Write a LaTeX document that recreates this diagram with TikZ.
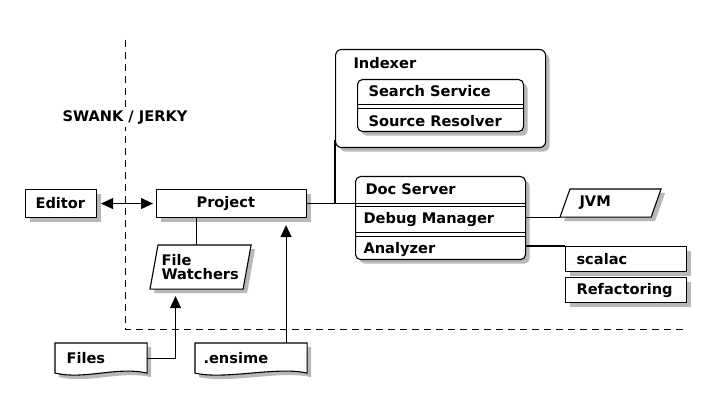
\documentclass[tikz,border=0pt]{standalone}
\usepackage{fontspec}
\setmainfont{DejaVu Sans}
\usepackage{tikz}
\usetikzlibrary{positioning,shadows,arrows.meta}

\begin{document}
\begin{tikzpicture}[x=1pt, y=-1pt, line width=1.1pt,
  font=\fontsize{14.6}{14.3}\selectfont\bfseries,
  >={Triangle[length=12pt, width=11pt]},
  boxshadow/.style={drop shadow={shadow xshift=4pt, shadow yshift=-4pt, fill=black!28, opacity=1}},
  box/.style={draw, fill=white, anchor=north west, align=left, inner ysep=0pt, boxshadow},
  page/.style={anchor=north west, inner sep=0pt},
  tag/.style={inner sep=0pt},
  link/.style={->, shorten >=7pt},
  lane/.style={line width=0.8pt, dash pattern=on 7pt off 5pt}]
\useasboundingbox (0,0) rectangle (710,406);

% protocol border
\coordinate (ltop) at (125,40); \coordinate (lcorner) at (125,329); \coordinate (lend) at (685,329);
\draw[lane] (ltop) -- (lcorner) -- (lend);
\node[fill=white, inner sep=2pt] (proto) at (125,118) {SWANK / JERKY};

\node[box, text width=51pt, inner xsep=10pt, minimum height=28pt] (editor) at (25,189) {Editor};
\node[box, text width=70pt, inner xsep=40pt, minimum height=28pt] (project) at (156,189) {Project};

% indexer
\node[box, rounded corners=6pt, minimum width=210pt, minimum height=98pt] (indexer) at (335,49) {};
\node[tag, anchor=west] (idxname) at ([xshift=18pt, yshift=-14pt]indexer.north west) {Indexer};
\node[box, rounded corners=5pt, minimum width=166pt, minimum height=52pt] (lookup) at (357,79) {};
\node[tag, anchor=north west, minimum height=24pt] (search) at ([xshift=11pt]lookup.north west) {Search Service};
\node[tag, minimum height=24pt, below=4pt of search.south west, anchor=north west] (source) {Source Resolver};
\draw (lookup.west |- search.south) -- (lookup.east |- search.south);
\draw (lookup.west |- source.north) -- (lookup.east |- source.north);

% services
\node[box, rounded corners=5pt, minimum width=170pt, minimum height=83pt] (svc) at (355,176) {};
\node[tag, anchor=north west, minimum height=26pt] (docsrv) at ([xshift=10pt]svc.north west) {Doc Server};
\node[tag, minimum height=25pt, below=3.5pt of docsrv.south west, anchor=north west, xshift=-2pt] (debug) {Debug Manager};
\node[tag, minimum height=25pt, below=3.5pt of debug.south west, anchor=north west] (analyzer) {Analyzer};
\draw (svc.west |- docsrv.south) -- (svc.east |- docsrv.south);
\draw (svc.west |- debug.north) -- (svc.east |- debug.north);
\draw (svc.west |- debug.south) -- (svc.east |- debug.south);
\draw (svc.west |- analyzer.north) -- (svc.east |- analyzer.north);

\node[page, minimum width=100pt, minimum height=27pt] (jvm) at (560,189) {};
\node[box, text width=99pt, inner xsep=11pt, minimum height=25pt] (scalac) at (565,246) {scalac};
\node[box, text width=99pt, inner xsep=11pt, minimum height=25pt, below=5pt of scalac.south west, anchor=north west] (refactor) {Refactoring};

% inputs
\node[page, minimum width=100pt, minimum height=43pt] (watch) at (150,245) {};
\node[page, minimum width=91pt, minimum height=29pt] (files) at (55,343) {};
\node[page, minimum width=111pt, minimum height=29pt] (ensime) at (195,343) {};
\foreach \p/\s in {jvm/10, watch/8}
  \filldraw[fill=white, boxshadow] (\p.south west) -- ([xshift=\s pt]\p.north west) -- (\p.north east)
    -- ([xshift=-\s pt]\p.south east) -- cycle;
\foreach \d in {files,ensime}
  \filldraw[fill=white, boxshadow] (\d.south west) -- (\d.north west) -- (\d.north east) -- (\d.south east)
    .. controls ([shift={(-30,-7)}]\d.south east) and ([shift={(30,7)}]\d.south west) .. (\d.south west) -- cycle;
\node[tag, right=19pt of jvm.west] (jvmname) {JVM};
\node[tag, right=11pt of watch.west, align=left] (watchname) {File\\Watchers};
\node[tag, right=11pt of files.west] (filesname) {Files};
\node[tag, right=8pt of ensime.west] (ensimename) {.ensime};

% connectors
\draw[<->, shorten <=4pt, shorten >=3pt] (editor) -- (project);
\draw (project.east) -- (project.east -| svc.west);
\draw (project.east -| indexer.west) -- ([yshift=8pt]indexer.south west);
\draw ([xshift=-35pt]project.south) -- ([xshift=-35pt]project.south |- watch.north);
\draw[link] (files.east) -| ([xshift=-25pt]watch.south);
\draw[link] ([xshift=35pt]ensime.north) -- ([xshift=35pt]ensime.north |- project.south);
\draw (svc.east |- jvm.south west) -- (jvm.south west);
\draw (svc.east |- scalac.north west) -- (scalac.north west);
\end{tikzpicture}
\end{document}
